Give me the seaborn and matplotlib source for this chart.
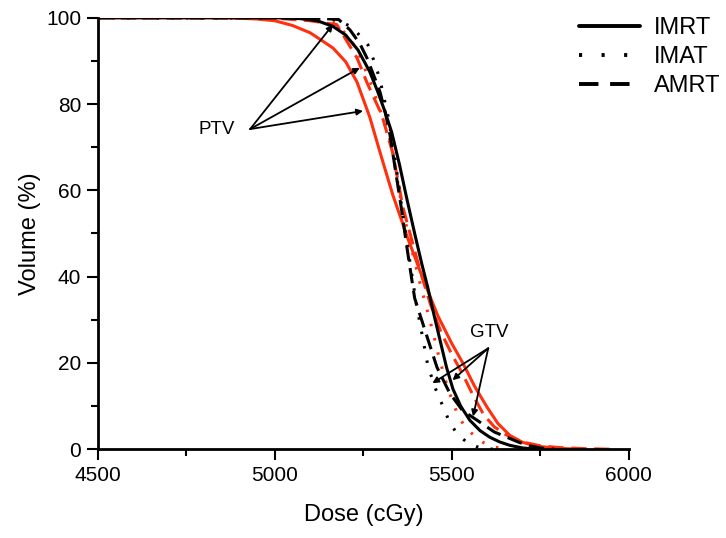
import matplotlib
matplotlib.use("Agg")
import matplotlib.pyplot as plt
import seaborn as sns
import pandas as pd
from matplotlib.lines import Line2D
from matplotlib.ticker import MultipleLocator

# GTV curves (black)
gtv_imrt_dose = [4500, 5000, 5071, 5120, 5164, 5200, 5235, 5268, 5290, 5310, 5330, 5352, 5373, 5395,
                 5415, 5432, 5450, 5466, 5485, 5503, 5525, 5551, 5580, 5607, 5635, 5664, 5700, 5740]
gtv_imrt_vol = [100, 100, 99.8, 99.3, 98, 96, 92.5, 87.5, 83, 78.5, 73.5, 66, 58, 50,
                43, 37.5, 31, 25.5, 19, 14, 10, 6.7, 4.3, 2.8, 1.7, 0.9, 0.3, 0]

gtv_imat_dose = [4500, 5120, 5178, 5220, 5263, 5282, 5297, 5319, 5335, 5350, 5362, 5375, 5387, 5400,
                 5415, 5432, 5452, 5472, 5494, 5510, 5523, 5545, 5570, 5600, 5620]
gtv_imat_vol = [100, 100, 99.5, 97.7, 93.7, 89.6, 85.6, 77.5, 70, 61, 54, 47, 40.5, 33.5,
                27, 19.5, 14.4, 10.5, 6.2, 4.2, 2.9, 1.5, 0.6, 0.1, 0]

gtv_amrt_dose = [4500, 5100, 5180, 5212, 5240, 5260, 5280, 5297, 5312, 5325, 5340, 5359, 5370, 5381,
                 5395, 5424, 5458, 5494, 5530, 5579, 5620, 5655, 5690, 5720, 5750, 5790]
gtv_amrt_vol = [100, 100, 99.6, 97.2, 94, 90.7, 86.5, 82.8, 78, 73, 65, 55, 48.5, 42.5,
                35, 27.6, 19, 13, 9, 6.3, 4, 2.8, 1.6, 0.8, 0.3, 0]

# PTV curves (red)
ptv_imrt_dose = [4500, 4850, 4900, 4950, 5000, 5050, 5100, 5164, 5200, 5232, 5268, 5300, 5333, 5375,
                 5420, 5460, 5500, 5531, 5565, 5600, 5630, 5664, 5700, 5740, 5800, 5870]
ptv_imrt_vol = [100, 100, 99.9, 99.7, 99.3, 98.2, 96.5, 93, 89.8, 85.1, 77, 68, 59, 49,
                39.2, 31, 24.5, 20, 14.5, 9.7, 6, 3.2, 1.6, 0.7, 0.2, 0]

ptv_imat_dose = [4500, 5050, 5140, 5175, 5230, 5270, 5300, 5330, 5353, 5380, 5410, 5443, 5466, 5490,
                 5517, 5535, 5556, 5588, 5620, 5660]
ptv_imat_vol = [100, 99.9, 99.2, 98.8, 93, 85, 78, 70.5, 59, 48.5, 38.5, 28.3, 20.6, 13.8,
                7.9, 5.5, 3.7, 1.6, 0.5, 0]

ptv_amrt_dose = [4500, 5000, 5100, 5175, 5232, 5260, 5302, 5333, 5362, 5410, 5440, 5470, 5500, 5530,
                 5560, 5590, 5620, 5650, 5680, 5710, 5750, 5800, 5870, 5950]
ptv_amrt_vol = [100, 99.9, 99.3, 98.4, 90.7, 85, 77.5, 68.7, 56, 41.5, 33.5, 27, 22, 17.5,
                12.5, 8, 5.2, 3.5, 2.3, 1.5, 0.8, 0.4, 0.15, 0]

RED = "#FF3010"
DOTTED = (0, (0.8, 4))
DASHED = (0, (5, 2.5))

curves = [
    (ptv_imrt_dose, ptv_imrt_vol, RED, "-"),
    (ptv_imat_dose, ptv_imat_vol, RED, DOTTED),
    (ptv_amrt_dose, ptv_amrt_vol, RED, DASHED),
    (gtv_imrt_dose, gtv_imrt_vol, "black", "-"),
    (gtv_imat_dose, gtv_imat_vol, "black", DOTTED),
    (gtv_amrt_dose, gtv_amrt_vol, "black", DASHED),
]

sns.set_theme(style="ticks")
plt.rcParams["font.family"] = ["Liberation Sans", "DejaVu Sans"]
plt.rcParams["text.color"] = "black"
plt.rcParams["axes.labelcolor"] = "black"
plt.rcParams["xtick.color"] = "black"
plt.rcParams["ytick.color"] = "black"

fig = plt.figure(figsize=(7.26, 5.38), dpi=100)
ax = fig.add_axes([0.135, 0.165, 0.731, 0.802])

for dose, vol, color, ls in curves:
    df = pd.DataFrame({"dose": dose, "vol": vol})
    sns.lineplot(data=df, x="dose", y="vol", ax=ax, color=color, linestyle=ls,
                 linewidth=2.2, sort=False, estimator=None)

ax.set_xlim(4500, 6000)
ax.set_ylim(0, 100)
ax.xaxis.set_major_locator(MultipleLocator(500))
ax.xaxis.set_minor_locator(MultipleLocator(250))
ax.yaxis.set_major_locator(MultipleLocator(20))
ax.yaxis.set_minor_locator(MultipleLocator(10))
ax.tick_params(which="major", length=8, width=1.5, labelsize=15, pad=4)
ax.tick_params(which="minor", length=5, width=1.5)
for side in ["top", "right"]:
    ax.spines[side].set_visible(False)
for side in ["left", "bottom"]:
    ax.spines[side].set_linewidth(2)
    ax.spines[side].set_color("black")
ax.spines["left"].set_zorder(0)

ax.set_xlabel("Dose (cGy)", fontsize=17, labelpad=14)
ax.set_ylabel("Volume (%)", fontsize=17, labelpad=4)

arrow = dict(arrowstyle="-|>", color="black", lw=1.3, mutation_scale=9, shrinkA=0, shrinkB=0)
for tip in [(5164, 98.4), (5240, 88.4), (5249, 78.4)]:
    ax.annotate("", xy=tip, xytext=(4930, 74.2), arrowprops=arrow)
ax.text(4836, 74.0, "PTV", fontsize=13.5, ha="center", va="center")

for tip in [(5445, 15.3), (5502, 16.0), (5560, 7.6)]:
    ax.annotate("", xy=tip, xytext=(5603, 23.4), arrowprops=arrow)
ax.text(5607, 27.0, "GTV", fontsize=13.5, ha="center", va="center")

handles = [
    Line2D([], [], color="black", lw=2.8, linestyle="-"),
    Line2D([], [], color="black", lw=2.8, linestyle=(0, (0.8, 5))),
    Line2D([], [], color="black", lw=2.8, linestyle=(0, (5, 3))),
]
fig.legend(handles, ["IMRT", "IMAT", "AMRT"], loc="upper right",
           bbox_to_anchor=(1.022, 1.008), frameon=False, fontsize=17,
           handlelength=2.6, labelspacing=0.3, handletextpad=0.6)

fig.savefig("out.png", dpi=100)
